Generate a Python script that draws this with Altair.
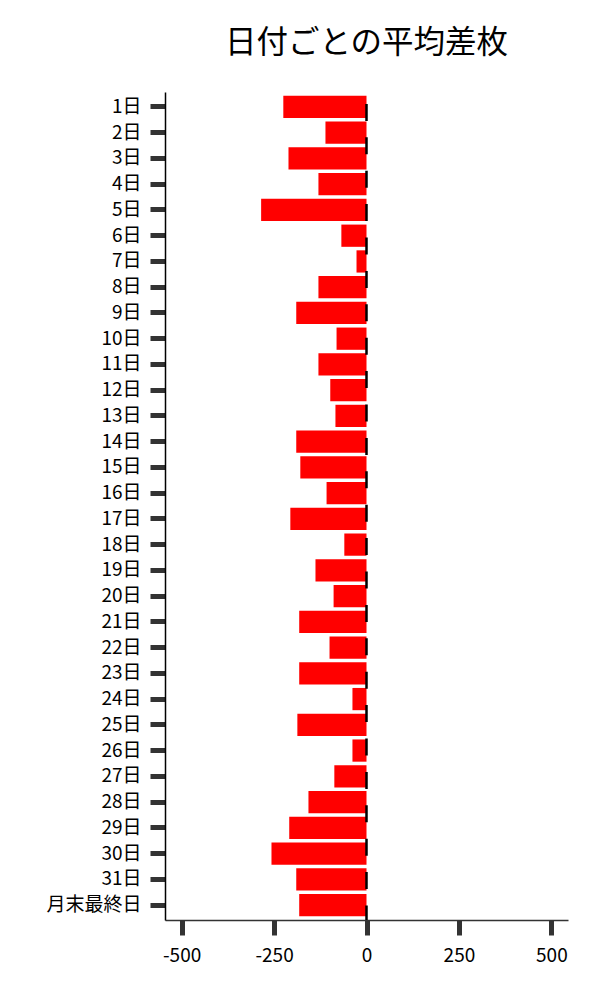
import altair as alt
import pandas as pd

days = [f"{i}日" for i in range(1, 32)] + ["月末最終日"]
values = [-225, -111, -211, -130, -285, -68, -27, -130, -190, -81,
          -130, -98, -84, -190, -179, -108, -206, -60, -138, -89,
          -182, -100, -182, -38, -187, -38, -87, -157, -209, -257,
          -190, -182]
x_ticks = [-500, -250, 0, 250, 500]

df = pd.DataFrame({"day": days, "value": values})
FONT = "Noto Sans CJK JP"

bars = alt.Chart(df).mark_bar(color="#ff0000").encode(
    x=alt.X("value:Q",
            scale=alt.Scale(domain=[-545, 545], nice=False, zero=False),
            axis=alt.Axis(values=x_ticks, title=None, grid=False,
                          tickSize=15, tickWidth=5, tickColor="#333333",
                          domainColor="#333333", domainWidth=1.5,
                          labelFontSize=19, labelColor="black", labelPadding=11,
                          labelFont=FONT,
                          labelExpr="datum.value < 0 ? '-' + abs(datum.value) : '' + datum.value")),
    y=alt.Y("day:N", sort=days,
            scale=alt.Scale(paddingInner=0.136, paddingOuter=0.15),
            axis=alt.Axis(title=None, grid=False,
                          tickSize=15, tickWidth=5, tickColor="#333333",
                          domainColor="black", domainWidth=1.5,
                          labelFontSize=19, labelColor="black", labelPadding=9,
                          labelFont=FONT)),
)

zero = alt.Chart(pd.DataFrame({"z": [0]})).mark_rule(
    color="black", strokeWidth=2.5, strokeDash=[17, 16.4], strokeDashOffset=21.5
).encode(x="z:Q")

chart = alt.layer(bars, zero).properties(
    width=403, height=828,
    title=alt.TitleParams("日付ごとの平均差枚", fontSize=31.5, font=FONT,
                          fontWeight="normal", anchor="middle", offset=31,
                          color="black"),
    autosize=alt.AutoSizeParams(type="none"),
    padding={"left": 157, "top": 84, "right": 24, "bottom": 64},
).configure(font=FONT).configure_view(stroke="transparent", strokeWidth=0)

chart.save("out.html", embed_options={"renderer": "svg", "actions": False})
